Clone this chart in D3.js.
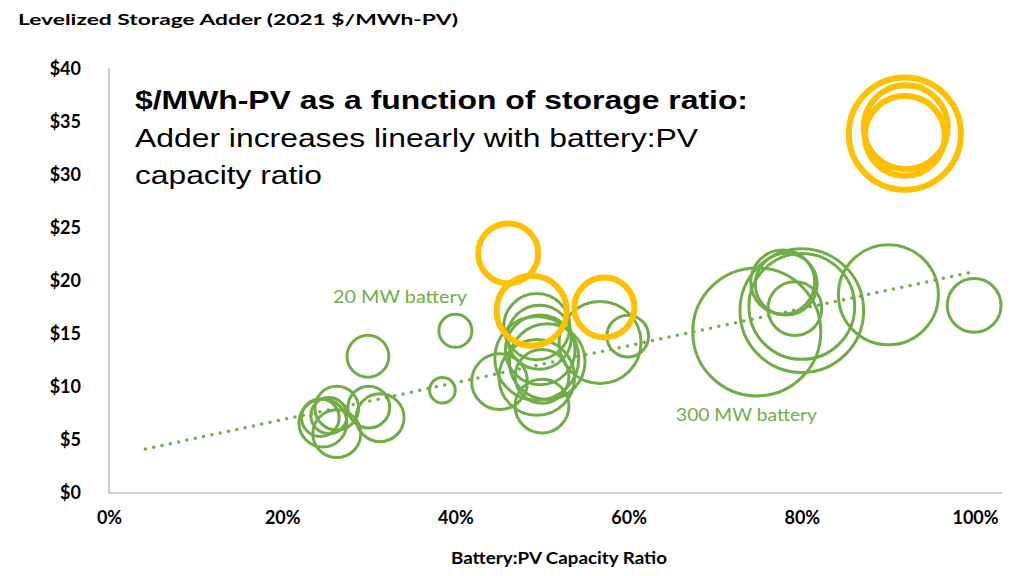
<!DOCTYPE html>
<html>
<head>
<meta charset="utf-8">
<script src="https://cdn.jsdelivr.net/npm/d3@7"></script>
<style>
  body { margin: 0; background: #fff; }
  text { font-family: Lato, "Open Sans", sans-serif; }
</style>
</head>
<body>
<svg class="chart" width="1011" height="576"></svg>
<script>
// axis ticks
var x_ticks = [0, 0.2, 0.4, 0.6, 0.8, 1.0];
var y_ticks = [0, 5, 10, 15, 20, 25, 30, 35, 40];

// green bubbles: battery:PV ratio, $/MWh-PV, battery MW
var green_ratio = [0.400, 0.299, 0.385, 0.999, 0.900, 0.599, 0.567,
    0.247, 0.244, 0.254, 0.263, 0.263, 0.300, 0.313,
    0.494, 0.497, 0.498, 0.494, 0.506, 0.494, 0.500, 0.500, 0.451,
    0.748, 0.800, 0.800, 0.778, 0.782, 0.792];
var green_adder = [15.3, 12.9, 9.7, 17.7, 18.7, 14.8, 14.2,
    6.6, 7.1, 7.3, 8.0, 5.6, 8.1, 7.1,
    15.7, 14.7, 13.5, 12.7, 12.4, 10.9, 11.0, 8.2, 10.5,
    15.2, 17.2, 17.6, 19.9, 19.7, 17.4];
var green_mw = [20, 32, 12, 53, 183, 32, 123,
    42, 26, 24, 35, 42, 32, 42,
    80, 75, 89, 129, 105, 105, 53, 53, 57,
    300, 280, 205, 75, 70, 53];

// gold bubbles
var gold_ratio = [0.919, 0.920, 0.919, 0.461, 0.488, 0.572];
var gold_adder = [33.9, 34.5, 33.7, 22.6, 17.2, 17.5];
var gold_mw = [230, 129, 117, 66, 90, 66];

// linear trend end points
var trend_ratio = [0.042, 0.995];
var trend_adder = [4.15, 20.8];

var svg = d3.select("svg.chart");

var x = d3.scaleLinear().domain([0, 1]).range([109, 975]);
var y = d3.scaleLinear().domain([0, 40]).range([493, 69]);
var r = d3.scaleSqrt().domain([0, 300]).range([0, 64]);

//plot area border (left + bottom)
svg.append("path")
    .attr("d", "M109,68V493H1002")
    .attr("fill", "none")
    .attr("stroke", "#bfbfbf")
    .attr("stroke-width", 1.5);

//axes with labels only
var yAxis = d3.axisLeft(y).tickValues(y_ticks).tickSize(0).tickPadding(0)
    .tickFormat(d => "$" + d);
svg.append("g")
    .attr("transform", "translate(81,0)")
    .call(yAxis)
    .call(g => g.select(".domain").remove())
    .selectAll("text")
        .attr("font-family", "Lato, sans-serif")
        .attr("font-size", 18)
        .attr("font-weight", "bold")
        .attr("fill", "#000");

var xAxis = d3.axisBottom(x).tickValues(x_ticks).tickSize(0).tickPadding(0)
    .tickFormat(d3.format(".0%"));
svg.append("g")
    .attr("transform", "translate(0,511)")
    .call(xAxis)
    .call(g => g.select(".domain").remove())
    .selectAll("text")
        .attr("font-family", "Lato, sans-serif")
        .attr("font-size", 18)
        .attr("font-weight", "bold")
        .attr("fill", "#000");

//axis titles
svg.append("text")
    .attr("x", 18).attr("y", 25)
    .attr("font-size", 16).attr("font-weight", "bold")
    .attr("textLength", 440).attr("lengthAdjust", "spacingAndGlyphs")
    .text("Levelized Storage Adder (2021 $/MWh-PV)");

svg.append("text")
    .attr("x", 451).attr("y", 564)
    .attr("font-size", 17.5).attr("font-weight", "bold")
    .attr("textLength", 216).attr("lengthAdjust", "spacingAndGlyphs")
    .text("Battery:PV Capacity Ratio");

//trend line
svg.append("line")
    .attr("x1", x(trend_ratio[0])).attr("y1", y(trend_adder[0]))
    .attr("x2", x(trend_ratio[1])).attr("y2", y(trend_adder[1]))
    .attr("stroke", "#70ad47")
    .attr("stroke-width", 3.5)
    .attr("stroke-linecap", "round")
    .attr("stroke-dasharray", "0 8.5");

//bubbles
var green = green_ratio.map((d, i) => ({x: d, y: green_adder[i], mw: green_mw[i]}));
var gold = gold_ratio.map((d, i) => ({x: d, y: gold_adder[i], mw: gold_mw[i]}));

svg.append("g").selectAll("circle")
    .data(green)
    .enter()
    .append("circle")
        .attr("cx", d => x(d.x))
        .attr("cy", d => y(d.y))
        .attr("r", d => r(d.mw))
        .attr("fill", "none")
        .attr("stroke", "#70ad47")
        .attr("stroke-width", 3);

svg.append("g").selectAll("circle")
    .data(gold)
    .enter()
    .append("circle")
        .attr("cx", d => x(d.x))
        .attr("cy", d => y(d.y))
        .attr("r", d => r(d.mw))
        .attr("fill", "none")
        .attr("stroke", "#ffc000")
        .attr("stroke-width", 6);

//bubble labels
svg.append("text")
    .attr("x", 333).attr("y", 303)
    .attr("font-size", 17).attr("fill", "#70ad47")
    .attr("textLength", 134).attr("lengthAdjust", "spacingAndGlyphs")
    .text("20 MW battery");
svg.append("text")
    .attr("x", 676).attr("y", 421)
    .attr("font-size", 17).attr("fill", "#70ad47")
    .attr("textLength", 141).attr("lengthAdjust", "spacingAndGlyphs")
    .text("300 MW battery");

//annotation
var note = svg.append("g");
var note_font = "'Liberation Sans', Arial, sans-serif";
note.append("text").attr("x", 135).attr("y", 109)
    .style("font-family", note_font).attr("font-size", 26.5).attr("font-weight", "bold")
    .attr("textLength", 613).attr("lengthAdjust", "spacingAndGlyphs")
    .text("$/MWh-PV as a function of storage ratio:");
note.append("text").attr("x", 135).attr("y", 147)
    .style("font-family", note_font).attr("font-size", 26.5)
    .attr("textLength", 563).attr("lengthAdjust", "spacingAndGlyphs")
    .text("Adder increases linearly with battery:PV");
note.append("text").attr("x", 135).attr("y", 184)
    .style("font-family", note_font).attr("font-size", 26.5)
    .attr("textLength", 187).attr("lengthAdjust", "spacingAndGlyphs")
    .text("capacity ratio");
</script>
</body>
</html>
